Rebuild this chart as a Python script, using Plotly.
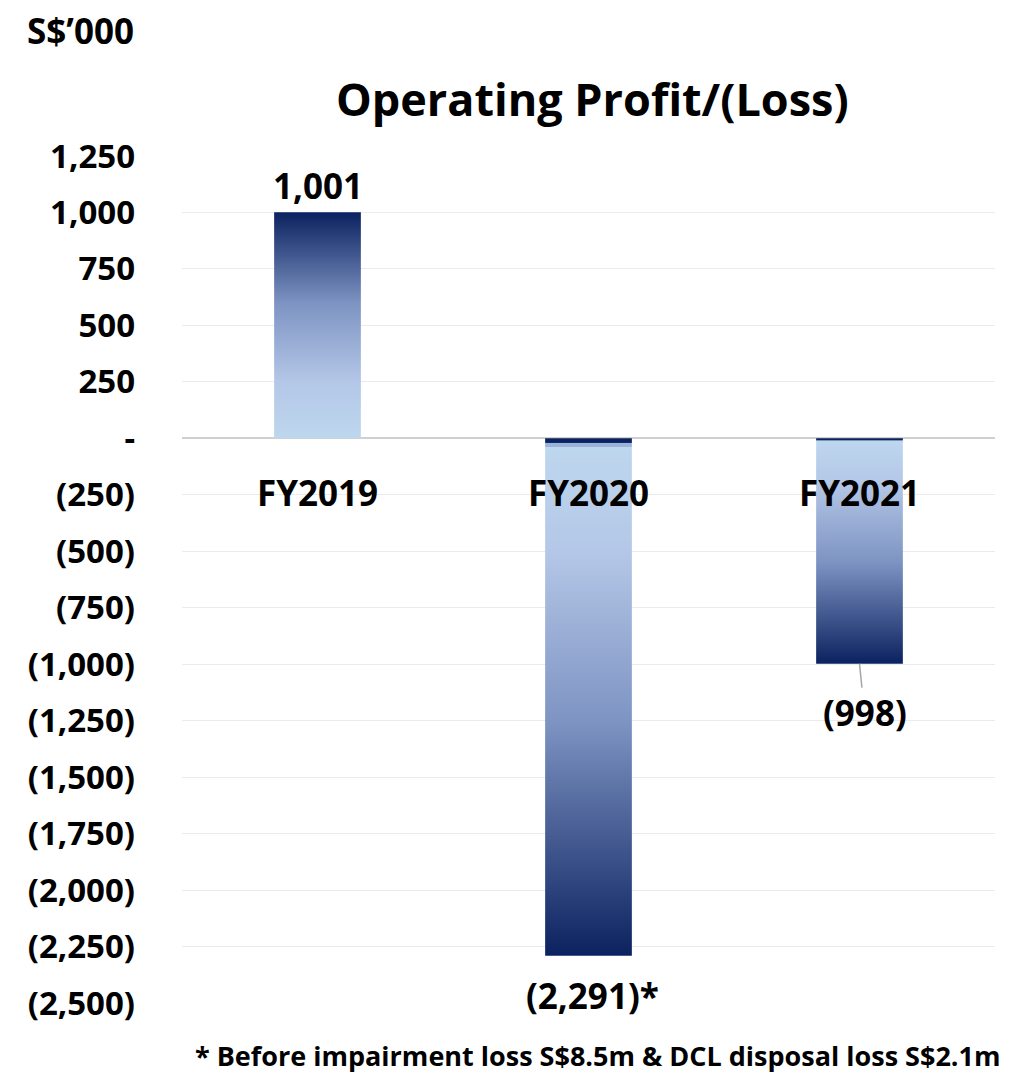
import plotly.graph_objects as go

categories = ["FY2019", "FY2020", "FY2021"]
values = [1001, -2291, -998]
value_labels = ["1,001", "(2,291)*", "(998)"]
tick_values = [1250, 1000, 750, 500, 250, 0, -250, -500, -750, -1000, -1250, -1500, -1750, -2000, -2250, -2500]
tick_labels = ["1,250", "1,000", "750", "500", "250", "-", "(250)", "(500)", "(750)", "(1,000)", "(1,250)",
               "(1,500)", "(1,750)", "(2,000)", "(2,250)", "(2,500)"]

FONT = "Open Sans, Lato, sans-serif"
LIGHT = "#BDD7EE"
LIGHT2 = "#B4C7E7"
MID = "#7D93C2"
DARK = "#0B2260"

half_w = 0.16

fig = go.Figure()

# gradient colorscales (position 0 = zero end, 1 = value end)
scales = [
    [[0, LIGHT], [0.25, LIGHT2], [0.6, MID], [1, DARK]],
    [[0, DARK], [0.008, DARK], [0.009, "#9DB2D8"], [0.016, "#9DB2D8"], [0.017, LIGHT],
     [0.22, LIGHT2], [0.55, MID], [1, DARK]],
    [[0, DARK], [0.009, DARK], [0.01, LIGHT], [0.2, LIGHT2], [0.55, MID], [1, DARK]],
]

for i, (cat, v) in enumerate(zip(categories, values)):
    xs = [i - half_w, i + half_w, i + half_w, i - half_w, i - half_w]
    ys = [0, 0, v, v, 0]
    fig.add_trace(go.Scatter(
        x=xs, y=ys, mode="lines", fill="toself",
        line=dict(width=0, color="rgba(0,0,0,0)"),
        fillgradient=dict(type="vertical", colorscale=scales[i], start=0, stop=v),
        hoverinfo="skip", showlegend=False,
    ))

LBL = dict(family=FONT, size=35, color="black", weight="bold")

# category labels just below zero line
for i, cat in enumerate(categories):
    fig.add_annotation(x=i, y=0, text=cat, showarrow=False, yanchor="middle",
                       yshift=-54, font=LBL)

# value labels
fig.add_annotation(x=0, y=values[0], text=value_labels[0], showarrow=False,
                   yanchor="middle", yshift=27, font=LBL)
fig.add_annotation(x=1, y=values[1], text=value_labels[1], showarrow=False,
                   yanchor="middle", xshift=4, yshift=-40, font=LBL)
fig.add_annotation(x=2, y=values[2], text=value_labels[2], showarrow=True,
                   arrowhead=0, arrowwidth=1.5, arrowcolor="#A6A6A6", ax=5, ay=49,
                   font=LBL)

# unit label
fig.add_annotation(xref="paper", yref="paper", x=-0.193, y=1.0, xanchor="left", yanchor="middle",
                   yshift=126, text="S$’000", showarrow=False,
                   font=dict(family=FONT, size=35, color="black", weight="bold"))

# footnote
fig.add_annotation(xref="paper", yref="paper", x=1.01, y=0, xanchor="right", yanchor="middle",
                   yshift=-52, text="* Before impairment loss S$8.5m &amp; DCL disposal loss S$2.1m",
                   showarrow=False, font=dict(family=FONT, size=27, color="black", weight="bold"))

fig.update_layout(
    width=1009, height=1074,
    paper_bgcolor="white", plot_bgcolor="white",
    margin=dict(l=182, r=14, t=156, b=71),
    title=dict(text="Operating Profit/(Loss)", x=0.587, xanchor="center", y=0.907, yanchor="middle",
               font=dict(family=FONT, size=45, color="black", weight="bold")),
    xaxis=dict(range=[-0.5, 2.5], showticklabels=False, showgrid=False, zeroline=False,
               showline=False, fixedrange=True),
    yaxis=dict(range=[-2500, 1250], tickvals=tick_values, ticktext=tick_labels,
               showgrid=True, gridcolor="#EBEBEB", gridwidth=1,
               zeroline=True, zerolinecolor="#D0D0D0", zerolinewidth=2,
               showline=False, ticklabelstandoff=46,
               tickfont=dict(family=FONT, size=33, color="black", weight="bold")),
    font=dict(family=FONT),
)

fig.write_html("out.html", config={"displayModeBar": False},
               post_script="document.body.style.margin='0';")
